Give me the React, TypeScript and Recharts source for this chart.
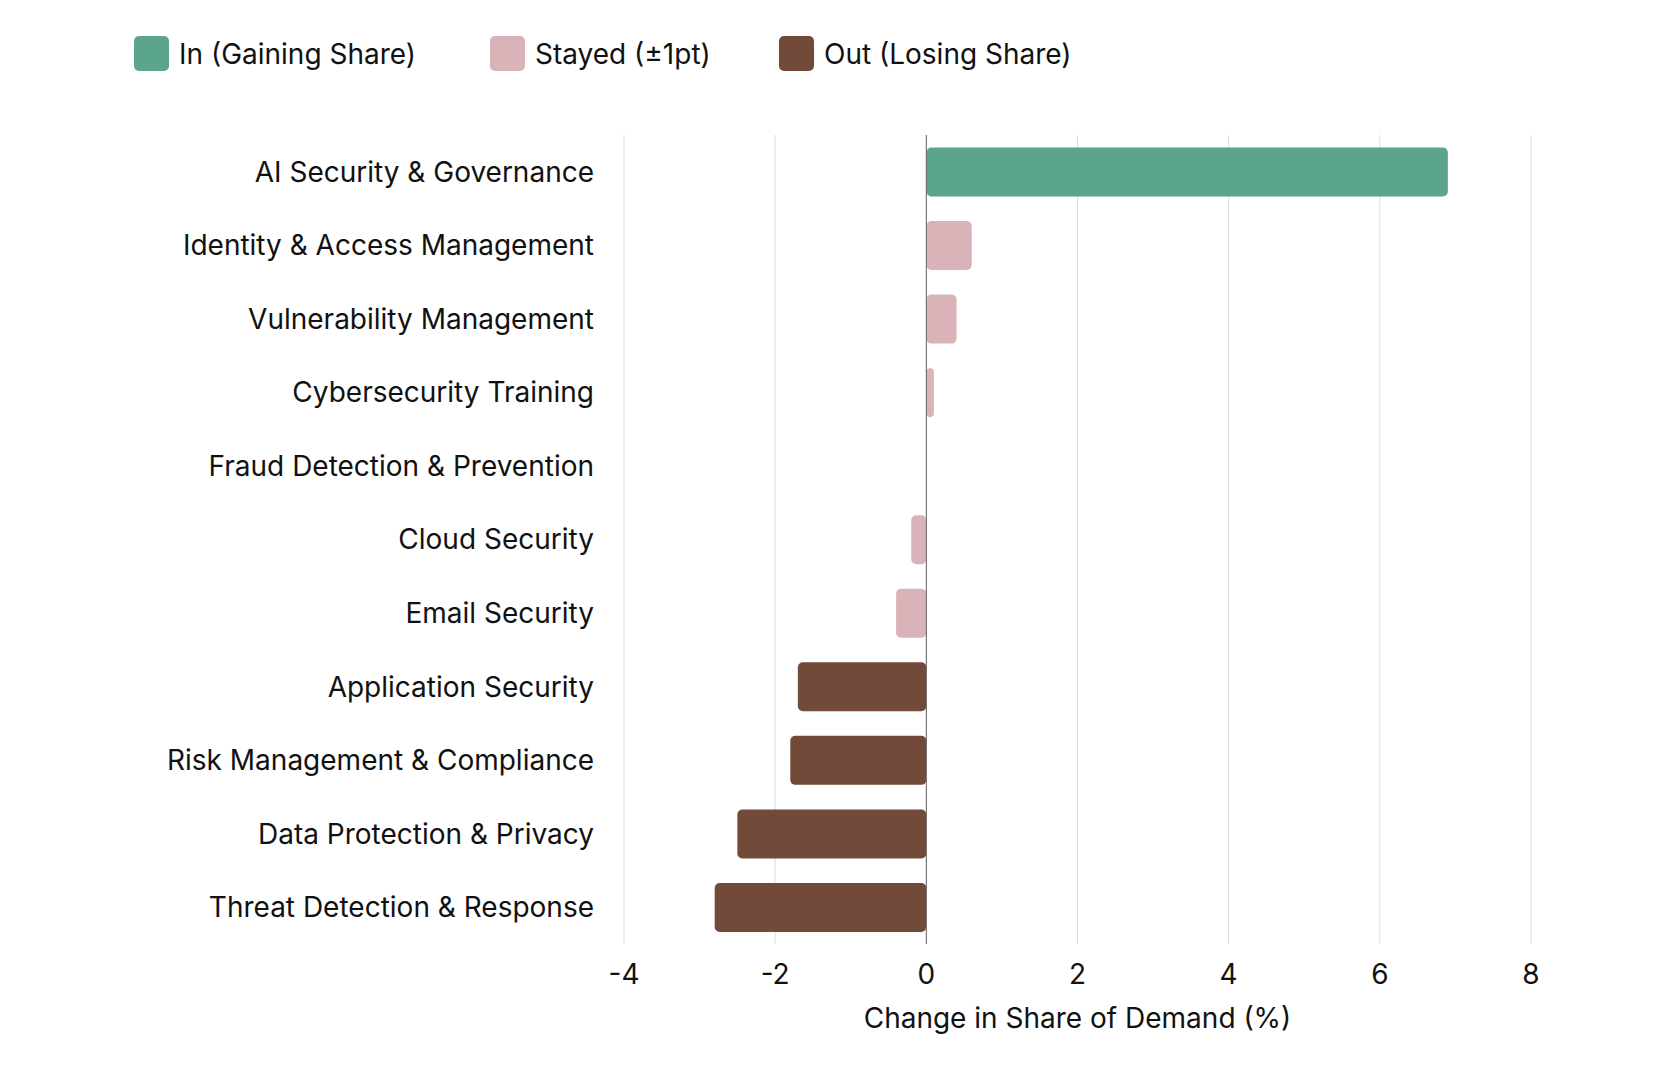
import { useEffect } from "react"
import { Bar, BarChart, CartesianGrid, Cell, ReferenceLine, XAxis, YAxis } from "recharts"

const categories = [
  "AI Security & Governance",
  "Identity & Access Management",
  "Vulnerability Management",
  "Cybersecurity Training",
  "Fraud Detection & Prevention",
  "Cloud Security",
  "Email Security",
  "Application Security",
  "Risk Management & Compliance",
  "Data Protection & Privacy",
  "Threat Detection & Response",
]
const changes = [6.9, 0.6, 0.4, 0.1, 0, -0.2, -0.4, -1.7, -1.8, -2.5, -2.8]
const groups = ["in", "stayed", "stayed", "stayed", "stayed", "stayed", "stayed", "out", "out", "out", "out"]
const xTicks = [-4, -2, 0, 2, 4, 6, 8]

const colors: Record<string, string> = { in: "#5ba58f", stayed: "#d9b3b8", out: "#714a3a" }
const legendItems = [
  { key: "in", label: "In (Gaining Share)", left: 134 },
  { key: "stayed", label: "Stayed (±1pt)", left: 490 },
  { key: "out", label: "Out (Losing Share)", left: 779 },
]

const data = categories.map((name, i) => ({ name, value: changes[i], group: groups[i] }))
const font = "Inter, 'Noto Sans', sans-serif"

export default function App() {
  useEffect(() => {
    document.body.style.margin = "0"
  }, [])
  return (
    <div style={{ position: "relative", width: 1673, height: 1080, background: "#fff", fontFamily: font }}>
      {legendItems.map((it) => (
        <div key={it.key} style={{ position: "absolute", top: 36, left: it.left, display: "flex", alignItems: "center" }}>
          <span style={{ width: 35, height: 35, borderRadius: 5, background: colors[it.key], marginRight: 10 }} />
          <span style={{ fontSize: 28, color: "#111" }}>{it.label}</span>
        </div>
      ))}
      <BarChart
        width={1673}
        height={1080}
        data={data}
        layout="vertical"
        margin={{ top: 135, right: 142, bottom: 0, left: 0 }}
        barCategoryGap="17%"
      >
        <CartesianGrid horizontal={false} stroke="#dcdcdc" />
        <XAxis
          type="number"
          domain={[-4, 8]}
          ticks={xTicks}
          axisLine={false}
          tickLine={false}
          height={136}
          tick={{ fontSize: 28, fill: "#111", fontFamily: font }}
          tickMargin={14}
          label={{ value: "Change in Share of Demand (%)", position: "insideBottom", offset: 52, fontSize: 28, fill: "#111", fontFamily: font }}
        />
        <YAxis
          type="category"
          dataKey="name"
          width={624}
          axisLine={false}
          tickLine={false}
          tickMargin={24}
          interval={0}
          tick={{ fontSize: 28, fill: "#111", fontFamily: font }}
        />
        <ReferenceLine x={0} stroke="#666" strokeWidth={1} />
        <Bar dataKey="value" radius={5} isAnimationActive={false}>
          {data.map((d) => (
            <Cell key={d.name} fill={colors[d.group]} />
          ))}
        </Bar>
      </BarChart>
    </div>
  )
}
